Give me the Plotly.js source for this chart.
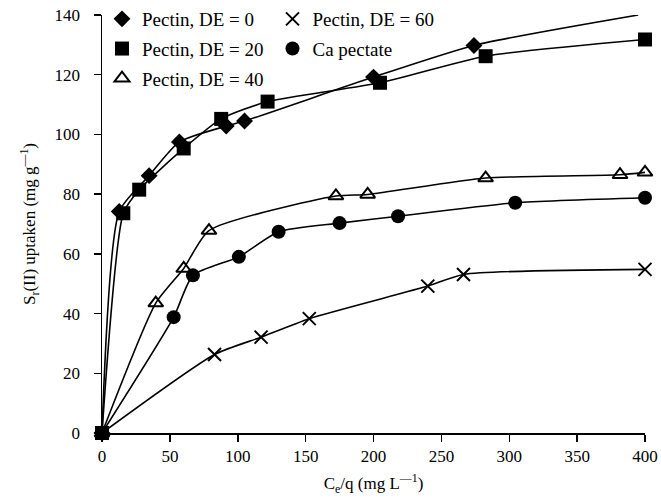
<!DOCTYPE html>
<html>
<head>
<meta charset="utf-8">
<script src="https://cdn.plot.ly/plotly-3.0.1.min.js"></script>
<style>html,body{margin:0;padding:0;background:#fff;}#chart{width:661px;height:504px;}</style>
</head>
<body>
<div id="chart"></div>
<script>
// Data
const de0X = [0, 12.7, 34.7, 57, 91.5, 105, 200, 274, 395];
const de0Y = [0, 74.2, 86.2, 97.5, 102.8, 104.5, 119.2, 129.8, 140];
const de20X = [0, 15.7, 27.4, 60.2, 87.8, 122, 204.8, 282.6, 400];
const de20Y = [0, 73.6, 81.5, 95.3, 105.2, 111, 117.3, 126.2, 131.8];
const de40X = [0, 39.6, 60.2, 78.8, 172.3, 195.7, 282.6, 381.6, 400];
const de40Y = [0, 43.5, 55.1, 67.8, 79.4, 79.9, 85.4, 86.5, 87.3];
const de60X = [0, 82.9, 117.2, 152.7, 240, 266.3, 400];
const de60Y = [0, 26.3, 32.1, 38.3, 49.2, 53.1, 54.8];
const caX = [0, 52.8, 67, 100.8, 130.1, 175, 218.1, 304.4, 400];
const caY = [0, 38.8, 52.8, 59, 67.4, 70.3, 72.6, 77.1, 78.8];
const names = ['Pectin, DE = 0', 'Pectin, DE = 20', 'Pectin, DE = 40', 'Pectin, DE = 60', 'Ca pectate'];

const FONT = '"Liberation Serif", serif';
const lineStyle = {color: '#000', width: 1.6, shape: 'spline', smoothing: 0.6};

function lineTrace(x, y) {
  return {x: x, y: y, mode: 'lines', line: lineStyle, showlegend: false, hoverinfo: 'skip', cliponaxis: false};
}
function markTrace(x, y, name, marker, legend, group) {
  return {x: x, y: y, mode: 'markers', name: name, marker: marker, legend: legend,
          legendgroup: group, cliponaxis: false};
}

const data = [
  lineTrace(de0X, de0Y), lineTrace(de20X, de20Y), lineTrace(de40X, de40Y),
  lineTrace(de60X, de60Y), lineTrace(caX, caY),
  markTrace(de0X.slice(0, -1), de0Y.slice(0, -1), names[0], {symbol: 'diamond', size: 13, color: '#000'}, 'legend', 'a'),
  markTrace(de20X, de20Y, names[1], {symbol: 'square', size: 14, color: '#000'}, 'legend', 'b'),
  markTrace(de40X, de40Y, names[2], {symbol: 'triangle-up-open', size: 13, color: '#000', line: {color: '#000', width: 2}}, 'legend', 'c'),
  markTrace(de60X, de60Y, names[3], {symbol: 'x-thin-open', size: 13, color: '#000', line: {color: '#000', width: 2}}, 'legend2', 'd'),
  markTrace(caX, caY, names[4], {symbol: 'circle', size: 14, color: '#000'}, 'legend2', 'e')
];

const legendBase = {
  bgcolor: 'rgba(0,0,0,0)', borderwidth: 0, font: {family: FONT, size: 19, color: '#000'},
  traceorder: 'grouped', tracegroupgap: 2, xanchor: 'left', yanchor: 'top', itemclick: false,
  yref: 'container'
};

const layout = {
  width: 661, height: 504,
  margin: {l: 102, r: 16, t: 15, b: 71, autoexpand: false},
  paper_bgcolor: '#fff', plot_bgcolor: '#fff',
  font: {family: FONT, size: 17, color: '#000'},
  showlegend: true,
  legend: Object.assign({}, legendBase, {x: 0.0, y: 1.006}),
  legend2: Object.assign({}, legendBase, {x: 0.314, y: 1.006}),
  xaxis: {
    range: [0, 400], dtick: 50, tick0: 0, showgrid: false, zeroline: false,
    showline: true, linecolor: '#000', linewidth: 1.5,
    ticks: 'outside', ticklen: 7, tickwidth: 1.5, tickcolor: '#000',
    tickfont: {family: FONT, size: 17, color: '#000'},
    title: {text: 'C<sub>e</sub>/q (mg L<sup>\u20141</sup>)', font: {family: FONT, size: 17, color: '#000'}, standoff: 12}
  },
  yaxis: {
    range: [0, 140], dtick: 20, tick0: 0, showgrid: false, zeroline: false,
    showline: true, linecolor: '#000', linewidth: 1.5,
    ticks: 'outside', ticklen: 7, tickwidth: 1.5, tickcolor: '#000',
    ticklabelstandoff: 10,
    tickfont: {family: FONT, size: 17, color: '#000'},
    title: {text: 'S<sub>r</sub>(II) uptaken (mg g<sup>\u20141</sup>)', font: {family: FONT, size: 17, color: '#000'}, standoff: 14}
  }
};

Plotly.newPlot('chart', data, layout, {displayModeBar: false, staticPlot: true});
</script>
</body>
</html>
